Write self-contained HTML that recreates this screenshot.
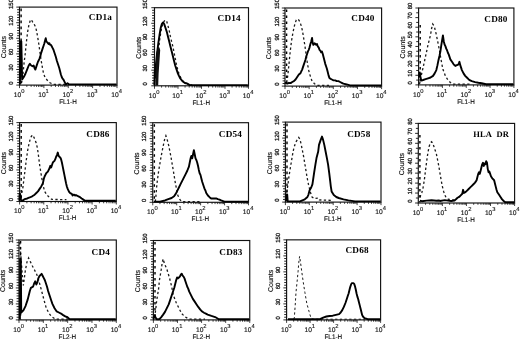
<!DOCTYPE html>
<html><head><meta charset="utf-8"><style>
html,body{margin:0;padding:0;background:#fff;}
body{width:520px;height:339px;overflow:hidden;}
svg{display:block;filter:grayscale(1);text-rendering:geometricPrecision;}
.t{font-family:"Liberation Sans",sans-serif;font-size:6.7px;fill:#111;stroke:#111;stroke-width:0.15px;}
.y{font-family:"Liberation Sans",sans-serif;font-size:6.0px;fill:#111;stroke:#111;stroke-width:0.25px;}
.s{font-family:"Liberation Sans",sans-serif;font-size:5.8px;fill:#111;stroke:#111;stroke-width:0.12px;}
.c{font-family:"Liberation Sans",sans-serif;font-size:7px;fill:#111;stroke:#111;stroke-width:0.15px;}
.ti{font-family:"Liberation Serif",serif;font-weight:bold;font-size:9.2px;fill:#000;letter-spacing:0.2px;}
</style></head><body>
<svg width="520" height="339" viewBox="0 0 520 339">
<rect width="520" height="339" fill="#fff"/>
<rect x="19.5" y="7.1" width="97.5" height="78" fill="none" stroke="#111" stroke-width="1.15"/>
<path d="M16.3 85.1H19.5M17.1 82.5H19.5M17.1 79.9H19.5M17.1 77.3H19.5M17.1 74.7H19.5M17.1 72.1H19.5M16.3 69.5H19.5M17.1 66.9H19.5M17.1 64.3H19.5M17.1 61.7H19.5M17.1 59.1H19.5M17.1 56.5H19.5M16.3 53.9H19.5M17.1 51.3H19.5M17.1 48.7H19.5M17.1 46.1H19.5M17.1 43.5H19.5M17.1 40.9H19.5M16.3 38.3H19.5M17.1 35.7H19.5M17.1 33.1H19.5M17.1 30.5H19.5M17.1 27.9H19.5M17.1 25.3H19.5M16.3 22.7H19.5M17.1 20.1H19.5M17.1 17.5H19.5M17.1 14.9H19.5M17.1 12.3H19.5M17.1 9.7H19.5M16.3 7.1H19.5" stroke="#111" stroke-width="0.9" fill="none"/>
<path d="M19.5 85.1V88.1M26.84 85.1V86.9M31.13 85.1V86.9M34.18 85.1V86.9M36.54 85.1V86.9M38.47 85.1V86.9M40.1 85.1V86.9M41.51 85.1V86.9M42.76 85.1V86.9M43.88 85.1V88.1M51.21 85.1V86.9M55.5 85.1V86.9M58.55 85.1V86.9M60.91 85.1V86.9M62.84 85.1V86.9M64.47 85.1V86.9M65.89 85.1V86.9M67.13 85.1V86.9M68.25 85.1V88.1M75.59 85.1V86.9M79.88 85.1V86.9M82.93 85.1V86.9M85.29 85.1V86.9M87.22 85.1V86.9M88.85 85.1V86.9M90.26 85.1V86.9M91.51 85.1V86.9M92.62 85.1V88.1M99.96 85.1V86.9M104.25 85.1V86.9M107.3 85.1V86.9M109.66 85.1V86.9M111.59 85.1V86.9M113.22 85.1V86.9M114.64 85.1V86.9M115.88 85.1V86.9M117 85.1V88.1" stroke="#111" stroke-width="0.8" fill="none"/>
<path d="M20.91 82.97 L21.87 82 L22.84 75.22 L24.05 63.11 L25.26 53.43 L26.47 41.32 L27.69 31.63 L28.9 24.85 L30.11 20.98 L31.32 19.53 L32.53 21.95 L33.74 23.4 L34.95 25.82 L36.16 29.21 L37.37 35.27 L38.58 42.53 L39.79 51 L41 59.48 L42.21 66.74 L43.42 72.8 L44.63 76.43 L47.06 80.06 L49.48 82.48 L53.11 84.4 L66.43 84.4" stroke="#1a1a1a" stroke-width="1.3" stroke-dasharray="2.3 2.4" fill="none"/>
<path d="M19.98 84.4 L20.31 41.55 L21.3 41.22 L21.8 63 L22.13 79.5 L23.78 77.03 L25.43 73.73 L27.08 69.6 L28.73 65.48 L29.88 63.83 L31.2 65.48 L32.52 66.3 L33.68 65.48 L34.5 67.95 L35.33 69.6 L36.15 67.13 L36.98 64.65 L37.8 62.18 L38.63 60.53 L39.45 58.88 L40.28 56.4 L41.1 53.1 L41.93 50.63 L42.75 48.15 L43.58 45.68 L44.4 43.2 L45.23 39.9 L45.72 38.25 L46.38 41.55 L47.37 42.38 L48.53 44.03 L49.35 43.2 L50.18 44.85 L51 44.85 L51.83 46.5 L52.65 48.15 L53.48 49.8 L54.3 52.28 L55.13 54.75 L55.95 57.23 L56.78 60.53 L57.6 63 L58.43 65.48 L59.25 67.95 L60.08 71.25 L60.9 74.55 L61.73 77.03 L62.55 78.68 L63.38 79.5 L64.2 81.16 L65.03 82.81 L65.85 84.4 L67.5 83.14 L69.16 84.4 L70.81 84.4 L74.11 84.4 L84.01 84.4 L116.5 84.4" stroke="#000" stroke-width="1.9" stroke-linejoin="round" fill="none"/>
<path d="M21.1 8.6V84.6" stroke="#000" stroke-width="1.4" stroke-dasharray="2.6 3.4"/>
<text x="21.3" y="96.9" class="t" text-anchor="end">10</text>
<text x="21.2" y="93" class="s">0</text>
<text x="45.67" y="96.9" class="t" text-anchor="end">10</text>
<text x="45.58" y="93" class="s">1</text>
<text x="70.05" y="96.9" class="t" text-anchor="end">10</text>
<text x="69.95" y="93" class="s">2</text>
<text x="94.42" y="96.9" class="t" text-anchor="end">10</text>
<text x="94.33" y="93" class="s">3</text>
<text x="118.8" y="96.9" class="t" text-anchor="end">10</text>
<text x="118.7" y="93" class="s">4</text>
<text x="67.95" y="103.9" class="t" text-anchor="middle" textLength="17.6" lengthAdjust="spacingAndGlyphs">FL1-H</text>
<text transform="translate(13.2 83.1) rotate(-90)" class="y" text-anchor="middle">0</text>
<text transform="translate(13.2 67.5) rotate(-90)" class="y" text-anchor="middle">30</text>
<text transform="translate(13.2 51.9) rotate(-90)" class="y" text-anchor="middle">60</text>
<text transform="translate(13.2 36.3) rotate(-90)" class="y" text-anchor="middle">90</text>
<text transform="translate(13.2 20.7) rotate(-90)" class="y" text-anchor="middle">120</text>
<text transform="translate(13.2 4) rotate(-90)" class="y" text-anchor="middle">150</text>
<text transform="translate(5.6 47.1) rotate(-90)" class="c" text-anchor="middle">Counts</text>
<text x="88.8" y="20.2" class="ti" xml:space="preserve">CD1a</text>
<rect x="154.5" y="7.7" width="94" height="78.1" fill="none" stroke="#111" stroke-width="1.15"/>
<path d="M151.3 85.8H154.5M152.1 83.2H154.5M152.1 80.59H154.5M152.1 77.99H154.5M152.1 75.39H154.5M152.1 72.78H154.5M151.3 70.18H154.5M152.1 67.58H154.5M152.1 64.97H154.5M152.1 62.37H154.5M152.1 59.77H154.5M152.1 57.16H154.5M151.3 54.56H154.5M152.1 51.96H154.5M152.1 49.35H154.5M152.1 46.75H154.5M152.1 44.15H154.5M152.1 41.54H154.5M151.3 38.94H154.5M152.1 36.34H154.5M152.1 33.73H154.5M152.1 31.13H154.5M152.1 28.53H154.5M152.1 25.92H154.5M151.3 23.32H154.5M152.1 20.72H154.5M152.1 18.11H154.5M152.1 15.51H154.5M152.1 12.91H154.5M152.1 10.3H154.5M151.3 7.7H154.5" stroke="#111" stroke-width="0.9" fill="none"/>
<path d="M154.5 85.8V88.8M161.57 85.8V87.6M165.71 85.8V87.6M168.65 85.8V87.6M170.93 85.8V87.6M172.79 85.8V87.6M174.36 85.8V87.6M175.72 85.8V87.6M176.92 85.8V87.6M178 85.8V88.8M185.07 85.8V87.6M189.21 85.8V87.6M192.15 85.8V87.6M194.43 85.8V87.6M196.29 85.8V87.6M197.86 85.8V87.6M199.22 85.8V87.6M200.42 85.8V87.6M201.5 85.8V88.8M208.57 85.8V87.6M212.71 85.8V87.6M215.65 85.8V87.6M217.93 85.8V87.6M219.79 85.8V87.6M221.36 85.8V87.6M222.72 85.8V87.6M223.92 85.8V87.6M225 85.8V88.8M232.07 85.8V87.6M236.21 85.8V87.6M239.15 85.8V87.6M241.43 85.8V87.6M243.29 85.8V87.6M244.86 85.8V87.6M246.22 85.8V87.6M247.42 85.8V87.6M248.5 85.8V88.8" stroke="#111" stroke-width="0.8" fill="none"/>
<path d="M154.39 82.48 L155.84 74.01 L157.05 63.11 L158.26 53.43 L159.47 41.32 L160.69 32.85 L161.9 26.79 L163.11 23.16 L164.32 20.98 L165.53 20.01 L166.74 21.46 L167.95 25.58 L169.16 30.42 L170.37 36.48 L171.58 41.32 L172.79 46.16 L174 52.22 L175.21 58.27 L176.42 64.32 L177.63 69.16 L178.85 73.28 L180.06 76.43 L182.48 80.54 L184.9 82.48 L187.32 83.69 L192.16 85.1" stroke="#1a1a1a" stroke-width="1.3" stroke-dasharray="2.3 2.4" fill="none"/>
<path d="M154.39 85.1 L154.87 70.38 L155.36 77.64 L155.84 65.53 L157.05 53.43 L158.26 43.74 L159.47 35.27 L160.69 28 L161.9 23.89 L163.11 22.43 L164.32 24.37 L165.53 28 L166.74 31.63 L167.95 36.48 L169.16 41.32 L170.37 46.16 L171.58 51 L172.79 55.85 L174 60.69 L175.21 65.53 L176.42 69.16 L177.63 72.8 L178.85 75.7 L180.06 78.12 L182.48 81.27 L184.9 82.97 L187.32 83.69 L189.74 85.1 L199.43 85.1 L223.64 85.1 L247.85 85.1" stroke="#000" stroke-width="1.9" stroke-linejoin="round" fill="none"/>
<path d="M155.4 85.5L155.6 66L156.6 52L158.6 46L160.2 50L159.4 62L158.6 74L158.2 85.5Z" fill="#111"/>
<text x="156.3" y="97.6" class="t" text-anchor="end">10</text>
<text x="156.2" y="93.7" class="s">0</text>
<text x="179.8" y="97.6" class="t" text-anchor="end">10</text>
<text x="179.7" y="93.7" class="s">1</text>
<text x="203.3" y="97.6" class="t" text-anchor="end">10</text>
<text x="203.2" y="93.7" class="s">2</text>
<text x="226.8" y="97.6" class="t" text-anchor="end">10</text>
<text x="226.7" y="93.7" class="s">3</text>
<text x="250.3" y="97.6" class="t" text-anchor="end">10</text>
<text x="250.2" y="93.7" class="s">4</text>
<text x="201.2" y="104.6" class="t" text-anchor="middle" textLength="17.6" lengthAdjust="spacingAndGlyphs">FL1-H</text>
<text transform="translate(147.1 83.8) rotate(-90)" class="y" text-anchor="middle">0</text>
<text transform="translate(147.1 68.18) rotate(-90)" class="y" text-anchor="middle">30</text>
<text transform="translate(147.1 52.56) rotate(-90)" class="y" text-anchor="middle">60</text>
<text transform="translate(147.1 36.94) rotate(-90)" class="y" text-anchor="middle">90</text>
<text transform="translate(147.1 21.32) rotate(-90)" class="y" text-anchor="middle">120</text>
<text transform="translate(147.1 4) rotate(-90)" class="y" text-anchor="middle">150</text>
<text transform="translate(140.6 47.75) rotate(-90)" class="c" text-anchor="middle">Counts</text>
<text x="217.6" y="20.7" class="ti" xml:space="preserve">CD14</text>
<rect x="285" y="8" width="96.6" height="78.1" fill="none" stroke="#111" stroke-width="1.15"/>
<path d="M281.8 86.1H285M282.6 83.5H285M282.6 80.89H285M282.6 78.29H285M282.6 75.69H285M282.6 73.08H285M281.8 70.48H285M282.6 67.88H285M282.6 65.27H285M282.6 62.67H285M282.6 60.07H285M282.6 57.46H285M281.8 54.86H285M282.6 52.26H285M282.6 49.65H285M282.6 47.05H285M282.6 44.45H285M282.6 41.84H285M281.8 39.24H285M282.6 36.64H285M282.6 34.03H285M282.6 31.43H285M282.6 28.83H285M282.6 26.22H285M281.8 23.62H285M282.6 21.02H285M282.6 18.41H285M282.6 15.81H285M282.6 13.21H285M282.6 10.6H285M281.8 8H285" stroke="#111" stroke-width="0.9" fill="none"/>
<path d="M285 86.1V89.1M292.27 86.1V87.9M296.52 86.1V87.9M299.54 86.1V87.9M301.88 86.1V87.9M303.79 86.1V87.9M305.41 86.1V87.9M306.81 86.1V87.9M308.04 86.1V87.9M309.15 86.1V89.1M316.42 86.1V87.9M320.67 86.1V87.9M323.69 86.1V87.9M326.03 86.1V87.9M327.94 86.1V87.9M329.56 86.1V87.9M330.96 86.1V87.9M332.19 86.1V87.9M333.3 86.1V89.1M340.57 86.1V87.9M344.82 86.1V87.9M347.84 86.1V87.9M350.18 86.1V87.9M352.09 86.1V87.9M353.71 86.1V87.9M355.11 86.1V87.9M356.34 86.1V87.9M357.45 86.1V89.1M364.72 86.1V87.9M368.97 86.1V87.9M371.99 86.1V87.9M374.33 86.1V87.9M376.24 86.1V87.9M377.86 86.1V87.9M379.26 86.1V87.9M380.49 86.1V87.9M381.6 86.1V89.1" stroke="#111" stroke-width="0.8" fill="none"/>
<path d="M286.63 82.48 L287.84 75.22 L289.05 63.11 L290.26 51 L291.47 41.32 L292.69 34.06 L293.9 28 L295.11 23.16 L296.32 20.01 L297.53 19.04 L298.74 20.01 L299.95 21.95 L301.16 25.58 L302.37 30.42 L303.58 37.69 L304.79 44.95 L306 53.43 L307.21 61.9 L308.42 69.16 L309.63 74.01 L310.85 77.64 L312.06 81.27 L314.48 83.69 L316.9 85.4 L331.43 85.4" stroke="#1a1a1a" stroke-width="1.3" stroke-dasharray="2.3 2.4" fill="none"/>
<path d="M284.83 82.81 L285.65 82.81 L287.3 83.63 L288.95 82.81 L290.6 83.14 L292.25 81.98 L293.9 81.16 L295.55 79.5 L297.2 77.03 L298.85 74.55 L300.5 73.23 L301.33 71.25 L302.15 69.6 L302.98 67.13 L303.8 64.65 L304.63 62.18 L305.45 59.7 L306.28 56.4 L307.1 53.93 L307.93 51.45 L308.75 49.8 L309.58 47.33 L310.4 44.03 L311.23 41.55 L312.05 37.92 L312.55 42.38 L313.37 44.85 L314.53 43.2 L315.35 44.03 L316.18 44.85 L317 44.03 L317.83 46.5 L318.65 47.33 L319.48 49.8 L320.3 50.63 L321.13 52.28 L321.95 51.45 L322.78 53.93 L323.6 57.23 L324.43 60.53 L325.25 63.83 L326.08 66.3 L326.9 68.78 L327.73 72.08 L328.55 75.38 L329.38 77.85 L330.2 78.68 L331.85 79.5 L333.5 80.33 L335.16 80.33 L336.81 81.16 L338.46 81.16 L340.11 81.98 L341.76 82.81 L343.41 83.63 L346.71 84.46 L350.01 85.4 L381.1 85.4" stroke="#000" stroke-width="1.9" stroke-linejoin="round" fill="none"/>
<path d="M286.6 9.5V85.6" stroke="#000" stroke-width="1.4" stroke-dasharray="2.6 3.4"/>
<text x="286.8" y="97.9" class="t" text-anchor="end">10</text>
<text x="286.7" y="94" class="s">0</text>
<text x="310.95" y="97.9" class="t" text-anchor="end">10</text>
<text x="310.85" y="94" class="s">1</text>
<text x="335.1" y="97.9" class="t" text-anchor="end">10</text>
<text x="335" y="94" class="s">2</text>
<text x="359.25" y="97.9" class="t" text-anchor="end">10</text>
<text x="359.15" y="94" class="s">3</text>
<text x="383.4" y="97.9" class="t" text-anchor="end">10</text>
<text x="383.3" y="94" class="s">4</text>
<text x="333" y="104.9" class="t" text-anchor="middle" textLength="17.6" lengthAdjust="spacingAndGlyphs">FL1-H</text>
<text transform="translate(278.7 84.1) rotate(-90)" class="y" text-anchor="middle">0</text>
<text transform="translate(278.7 68.48) rotate(-90)" class="y" text-anchor="middle">30</text>
<text transform="translate(278.7 52.86) rotate(-90)" class="y" text-anchor="middle">60</text>
<text transform="translate(278.7 37.24) rotate(-90)" class="y" text-anchor="middle">90</text>
<text transform="translate(278.7 21.62) rotate(-90)" class="y" text-anchor="middle">120</text>
<text transform="translate(278.7 4) rotate(-90)" class="y" text-anchor="middle">150</text>
<text transform="translate(271.1 48.05) rotate(-90)" class="c" text-anchor="middle">Counts</text>
<text x="351.3" y="21.3" class="ti" xml:space="preserve">CD40</text>
<rect x="418.6" y="8" width="95.3" height="76.9" fill="none" stroke="#111" stroke-width="1.15"/>
<path d="M415.4 84.9H418.6M416.2 80.09H418.6M415.4 75.29H418.6M416.2 70.48H418.6M415.4 65.68H418.6M416.2 60.87H418.6M415.4 56.06H418.6M416.2 51.26H418.6M415.4 46.45H418.6M416.2 41.64H418.6M415.4 36.84H418.6M416.2 32.03H418.6M415.4 27.23H418.6M416.2 22.42H418.6M415.4 17.61H418.6M416.2 12.81H418.6M415.4 8H418.6" stroke="#111" stroke-width="0.9" fill="none"/>
<path d="M418.6 84.9V87.9M425.77 84.9V86.7M429.97 84.9V86.7M432.94 84.9V86.7M435.25 84.9V86.7M437.14 84.9V86.7M438.73 84.9V86.7M440.12 84.9V86.7M441.33 84.9V86.7M442.43 84.9V87.9M449.6 84.9V86.7M453.79 84.9V86.7M456.77 84.9V86.7M459.08 84.9V86.7M460.96 84.9V86.7M462.56 84.9V86.7M463.94 84.9V86.7M465.16 84.9V86.7M466.25 84.9V87.9M473.42 84.9V86.7M477.62 84.9V86.7M480.59 84.9V86.7M482.9 84.9V86.7M484.79 84.9V86.7M486.38 84.9V86.7M487.77 84.9V86.7M488.98 84.9V86.7M490.07 84.9V87.9M497.25 84.9V86.7M501.44 84.9V86.7M504.42 84.9V86.7M506.73 84.9V86.7M508.61 84.9V86.7M510.21 84.9V86.7M511.59 84.9V86.7M512.81 84.9V86.7M513.9 84.9V87.9" stroke="#111" stroke-width="0.8" fill="none"/>
<path d="M419.5 84.2 L420.5 79 L421.8 73 L423.1 67.6 L425.6 56.1 L428.1 44.5 L430.6 34.6 L431.6 28.5 L432.7 24 L433.8 25.5 L434.7 28 L436.3 34.6 L438 42.9 L439.6 51.1 L441.3 61 L442.9 69.3 L445.4 75.9 L447.9 80 L450.4 82.5 L453 84.2 L470 84.2" stroke="#1a1a1a" stroke-width="1.3" stroke-dasharray="2.3 2.4" fill="none"/>
<path d="M419 77.5 L419.83 72.55 L420.65 78.33 L421.48 80.48 L423.13 79.98 L425.6 79.16 L428.08 78.33 L430.55 77.5 L433.03 75.85 L434.68 73.38 L436.33 70.08 L437.48 65.13 L438.47 60.18 L439.63 55.23 L440.45 51.1 L441.28 45.33 L442.1 40.38 L442.93 35.43 L443.75 41.2 L444.58 44.5 L445.4 46.15 L446.23 48.63 L447.05 50.28 L447.88 52.75 L448.7 54.4 L449.53 56.88 L450.35 59.35 L452 61.83 L453.65 64.3 L455.3 65.95 L456.95 65.13 L458.6 64.3 L459.43 61.83 L460.25 65.13 L461.08 67.6 L461.9 70.08 L463.55 73.38 L465.2 75.85 L466.85 77.5 L468.5 79.16 L470.16 80.48 L471.81 81.14 L475.11 82.13 L478.41 82.79 L481.71 83.28 L486 84.2 L513.4 84.2" stroke="#000" stroke-width="1.9" stroke-linejoin="round" fill="none"/>
<path d="M420.2 25V84.4" stroke="#000" stroke-width="1.4" stroke-dasharray="2.6 3.4"/>
<text x="420.4" y="96.7" class="t" text-anchor="end">10</text>
<text x="420.3" y="92.8" class="s">0</text>
<text x="444.23" y="96.7" class="t" text-anchor="end">10</text>
<text x="444.12" y="92.8" class="s">1</text>
<text x="468.05" y="96.7" class="t" text-anchor="end">10</text>
<text x="467.95" y="92.8" class="s">2</text>
<text x="491.88" y="96.7" class="t" text-anchor="end">10</text>
<text x="491.77" y="92.8" class="s">3</text>
<text x="515.7" y="96.7" class="t" text-anchor="end">10</text>
<text x="515.6" y="92.8" class="s">4</text>
<text x="465.95" y="103.7" class="t" text-anchor="middle" textLength="17.6" lengthAdjust="spacingAndGlyphs">FL1-H</text>
<text transform="translate(412.3 82.9) rotate(-90)" class="y" text-anchor="middle">0</text>
<text transform="translate(412.3 73.29) rotate(-90)" class="y" text-anchor="middle">10</text>
<text transform="translate(412.3 63.68) rotate(-90)" class="y" text-anchor="middle">20</text>
<text transform="translate(412.3 54.06) rotate(-90)" class="y" text-anchor="middle">30</text>
<text transform="translate(412.3 44.45) rotate(-90)" class="y" text-anchor="middle">40</text>
<text transform="translate(412.3 34.84) rotate(-90)" class="y" text-anchor="middle">50</text>
<text transform="translate(412.3 25.23) rotate(-90)" class="y" text-anchor="middle">60</text>
<text transform="translate(412.3 15.61) rotate(-90)" class="y" text-anchor="middle">70</text>
<text transform="translate(412.3 6) rotate(-90)" class="y" text-anchor="middle">80</text>
<text transform="translate(404.7 47.45) rotate(-90)" class="c" text-anchor="middle">Counts</text>
<text x="484.3" y="21.9" class="ti" xml:space="preserve">CD80</text>
<rect x="19.6" y="122.6" width="96.7" height="78.9" fill="none" stroke="#111" stroke-width="1.15"/>
<path d="M16.4 201.5H19.6M17.2 198.87H19.6M17.2 196.24H19.6M17.2 193.61H19.6M17.2 190.98H19.6M17.2 188.35H19.6M16.4 185.72H19.6M17.2 183.09H19.6M17.2 180.46H19.6M17.2 177.83H19.6M17.2 175.2H19.6M17.2 172.57H19.6M16.4 169.94H19.6M17.2 167.31H19.6M17.2 164.68H19.6M17.2 162.05H19.6M17.2 159.42H19.6M17.2 156.79H19.6M16.4 154.16H19.6M17.2 151.53H19.6M17.2 148.9H19.6M17.2 146.27H19.6M17.2 143.64H19.6M17.2 141.01H19.6M16.4 138.38H19.6M17.2 135.75H19.6M17.2 133.12H19.6M17.2 130.49H19.6M17.2 127.86H19.6M17.2 125.23H19.6M16.4 122.6H19.6" stroke="#111" stroke-width="0.9" fill="none"/>
<path d="M19.6 201.5V204.5M26.88 201.5V203.3M31.13 201.5V203.3M34.15 201.5V203.3M36.5 201.5V203.3M38.41 201.5V203.3M40.03 201.5V203.3M41.43 201.5V203.3M42.67 201.5V203.3M43.77 201.5V204.5M51.05 201.5V203.3M55.31 201.5V203.3M58.33 201.5V203.3M60.67 201.5V203.3M62.59 201.5V203.3M64.21 201.5V203.3M65.61 201.5V203.3M66.84 201.5V203.3M67.95 201.5V204.5M75.23 201.5V203.3M79.48 201.5V203.3M82.5 201.5V203.3M84.85 201.5V203.3M86.76 201.5V203.3M88.38 201.5V203.3M89.78 201.5V203.3M91.02 201.5V203.3M92.12 201.5V204.5M99.4 201.5V203.3M103.66 201.5V203.3M106.68 201.5V203.3M109.02 201.5V203.3M110.94 201.5V203.3M112.56 201.5V203.3M113.96 201.5V203.3M115.19 201.5V203.3M116.3 201.5V204.5" stroke="#111" stroke-width="0.8" fill="none"/>
<path d="M20.91 197.48 L22.84 187.8 L24.05 178.11 L25.26 168.43 L26.47 158.74 L27.69 150.27 L28.9 144.21 L30.11 139.37 L31.32 136.46 L32.53 135.01 L33.74 136.95 L34.95 139.37 L36.16 143 L37.37 147.85 L38.58 156.32 L39.79 166 L41 173.27 L42.21 180.53 L43.42 186.59 L44.63 191.43 L47.06 195.06 L49.48 197.48 L51.9 199.42 L66.43 199.66" stroke="#1a1a1a" stroke-width="1.3" stroke-dasharray="2.3 2.4" fill="none"/>
<path d="M19.33 200.8 L19.66 193.85 L20.16 193.85 L20.65 199.63 L22.3 200.8 L24.78 199.14 L27.25 198.48 L29.73 197.49 L32.2 196.33 L34.68 194.68 L36.33 193.03 L37.98 191.38 L39.63 188.9 L41.28 186.43 L42.93 183.13 L43.75 179 L44.58 176.53 L45.4 174.88 L46.23 173.23 L47.05 172.4 L47.88 171.58 L48.7 169.93 L49.53 168.28 L50.35 165.8 L51.18 167.45 L52 164.98 L52.83 162.5 L53.65 161.68 L54.48 160.85 L55.3 159.2 L56.13 156.73 L56.95 155.08 L57.78 152.6 L58.6 155.9 L59.43 156.73 L60.25 157.55 L61.08 159.2 L61.9 162.5 L62.73 166.63 L63.55 170.75 L64.38 174.88 L65.2 179 L66.03 183.13 L66.85 186.43 L67.68 188.9 L68.5 190.55 L69.33 192.2 L70.16 193.03 L71.81 193.85 L72.63 195.5 L73.46 194.68 L74.28 194.68 L75.11 195.5 L75.93 195.17 L76.76 195.5 L78.41 196.33 L80.06 197.16 L81.71 198.48 L83.36 199.63 L85.01 200.8 L94 200.8 L115.8 200.8" stroke="#000" stroke-width="1.9" stroke-linejoin="round" fill="none"/>
<path d="M21.2 124.1V201" stroke="#000" stroke-width="1.4" stroke-dasharray="2.6 3.4"/>
<text x="21.4" y="213.3" class="t" text-anchor="end">10</text>
<text x="21.3" y="209.4" class="s">0</text>
<text x="45.57" y="213.3" class="t" text-anchor="end">10</text>
<text x="45.48" y="209.4" class="s">1</text>
<text x="69.75" y="213.3" class="t" text-anchor="end">10</text>
<text x="69.65" y="209.4" class="s">2</text>
<text x="93.92" y="213.3" class="t" text-anchor="end">10</text>
<text x="93.83" y="209.4" class="s">3</text>
<text x="118.1" y="213.3" class="t" text-anchor="end">10</text>
<text x="118" y="209.4" class="s">4</text>
<text x="67.65" y="220.3" class="t" text-anchor="middle" textLength="17.6" lengthAdjust="spacingAndGlyphs">FL1-H</text>
<text transform="translate(13.3 199.5) rotate(-90)" class="y" text-anchor="middle">0</text>
<text transform="translate(13.3 183.72) rotate(-90)" class="y" text-anchor="middle">30</text>
<text transform="translate(13.3 167.94) rotate(-90)" class="y" text-anchor="middle">60</text>
<text transform="translate(13.3 152.16) rotate(-90)" class="y" text-anchor="middle">90</text>
<text transform="translate(13.3 136.38) rotate(-90)" class="y" text-anchor="middle">120</text>
<text transform="translate(13.3 120.6) rotate(-90)" class="y" text-anchor="middle">150</text>
<text transform="translate(5.7 163.05) rotate(-90)" class="c" text-anchor="middle">Counts</text>
<text x="86.3" y="137.4" class="ti" xml:space="preserve">CD86</text>
<rect x="152.75" y="122.7" width="95.75" height="79.6" fill="none" stroke="#111" stroke-width="1.15"/>
<path d="M149.55 202.3H152.75M150.35 199.65H152.75M150.35 196.99H152.75M150.35 194.34H152.75M150.35 191.69H152.75M150.35 189.03H152.75M149.55 186.38H152.75M150.35 183.73H152.75M150.35 181.07H152.75M150.35 178.42H152.75M150.35 175.77H152.75M150.35 173.11H152.75M149.55 170.46H152.75M150.35 167.81H152.75M150.35 165.15H152.75M150.35 162.5H152.75M150.35 159.85H152.75M150.35 157.19H152.75M149.55 154.54H152.75M150.35 151.89H152.75M150.35 149.23H152.75M150.35 146.58H152.75M150.35 143.93H152.75M150.35 141.27H152.75M149.55 138.62H152.75M150.35 135.97H152.75M150.35 133.31H152.75M150.35 130.66H152.75M150.35 128.01H152.75M150.35 125.35H152.75M149.55 122.7H152.75" stroke="#111" stroke-width="0.9" fill="none"/>
<path d="M152.75 202.3V205.3M159.96 202.3V204.1M164.17 202.3V204.1M167.16 202.3V204.1M169.48 202.3V204.1M171.38 202.3V204.1M172.98 202.3V204.1M174.37 202.3V204.1M175.59 202.3V204.1M176.69 202.3V205.3M183.89 202.3V204.1M188.11 202.3V204.1M191.1 202.3V204.1M193.42 202.3V204.1M195.31 202.3V204.1M196.92 202.3V204.1M198.31 202.3V204.1M199.53 202.3V204.1M200.62 202.3V205.3M207.83 202.3V204.1M212.05 202.3V204.1M215.04 202.3V204.1M217.36 202.3V204.1M219.25 202.3V204.1M220.85 202.3V204.1M222.24 202.3V204.1M223.47 202.3V204.1M224.56 202.3V205.3M231.77 202.3V204.1M235.98 202.3V204.1M238.97 202.3V204.1M241.29 202.3V204.1M243.19 202.3V204.1M244.79 202.3V204.1M246.18 202.3V204.1M247.4 202.3V204.1M248.5 202.3V205.3" stroke="#111" stroke-width="0.8" fill="none"/>
<path d="M155.3 201.6 L156 195.3 L156.9 184 L158.7 170.6 L161 157.1 L163.2 145.9 L164.6 139.5 L165.9 135.8 L167.3 140 L168.8 145.9 L171 157.1 L173.3 170.6 L175.5 184 L177.8 195.3 L180 199.7 L182 201.6 L200 201.6" stroke="#1a1a1a" stroke-width="1.3" stroke-dasharray="2.3 2.4" fill="none"/>
<path d="M154 201.6 L160 201.6 L165 200.46 L168.3 199.14 L171.6 197.98 L174.08 196.33 L175.73 193.85 L177.38 190.55 L179.03 187.25 L180.68 183.95 L182.33 180.65 L183.98 177.35 L185.63 174.05 L187.28 170.75 L188.93 166.63 L189.75 162.5 L190.58 158.38 L191.4 155.9 L192.23 158.38 L193.05 154.25 L193.88 150.13 L194.7 154.25 L195.53 158.38 L196.35 160.03 L197.18 162.5 L198 165.8 L198.83 169.93 L199.65 173.23 L200.48 174.88 L201.3 178.18 L202.13 181.48 L202.95 183.95 L203.78 186.43 L204.6 188.9 L205.43 190.55 L206.25 193.03 L207.9 195.5 L209.55 197.16 L211.2 198.48 L212.85 198.48 L214.5 198.48 L216.16 198.48 L217.81 199.14 L219.46 199.63 L221.11 200.46 L224.41 201.6 L227.71 201.6 L248 201.6" stroke="#000" stroke-width="1.9" stroke-linejoin="round" fill="none"/>
<path d="M154.35 124.2V201.8" stroke="#000" stroke-width="1.4" stroke-dasharray="2.6 3.4"/>
<text x="154.55" y="214.1" class="t" text-anchor="end">10</text>
<text x="154.45" y="210.2" class="s">0</text>
<text x="178.49" y="214.1" class="t" text-anchor="end">10</text>
<text x="178.39" y="210.2" class="s">1</text>
<text x="202.43" y="214.1" class="t" text-anchor="end">10</text>
<text x="202.32" y="210.2" class="s">2</text>
<text x="226.36" y="214.1" class="t" text-anchor="end">10</text>
<text x="226.26" y="210.2" class="s">3</text>
<text x="250.3" y="214.1" class="t" text-anchor="end">10</text>
<text x="250.2" y="210.2" class="s">4</text>
<text x="200.32" y="221.1" class="t" text-anchor="middle" textLength="17.6" lengthAdjust="spacingAndGlyphs">FL1-H</text>
<text transform="translate(146.45 200.3) rotate(-90)" class="y" text-anchor="middle">0</text>
<text transform="translate(146.45 184.38) rotate(-90)" class="y" text-anchor="middle">30</text>
<text transform="translate(146.45 168.46) rotate(-90)" class="y" text-anchor="middle">60</text>
<text transform="translate(146.45 152.54) rotate(-90)" class="y" text-anchor="middle">90</text>
<text transform="translate(146.45 136.62) rotate(-90)" class="y" text-anchor="middle">120</text>
<text transform="translate(146.45 120.7) rotate(-90)" class="y" text-anchor="middle">150</text>
<text transform="translate(138.85 163.5) rotate(-90)" class="c" text-anchor="middle">Counts</text>
<text x="218.8" y="137.4" class="ti" xml:space="preserve">CD54</text>
<rect x="285.4" y="122.1" width="95.6" height="80" fill="none" stroke="#111" stroke-width="1.15"/>
<path d="M282.2 202.1H285.4M283 199.43H285.4M283 196.77H285.4M283 194.1H285.4M283 191.43H285.4M283 188.77H285.4M282.2 186.1H285.4M283 183.43H285.4M283 180.77H285.4M283 178.1H285.4M283 175.43H285.4M283 172.77H285.4M282.2 170.1H285.4M283 167.43H285.4M283 164.77H285.4M283 162.1H285.4M283 159.43H285.4M283 156.77H285.4M282.2 154.1H285.4M283 151.43H285.4M283 148.77H285.4M283 146.1H285.4M283 143.43H285.4M283 140.77H285.4M282.2 138.1H285.4M283 135.43H285.4M283 132.77H285.4M283 130.1H285.4M283 127.43H285.4M283 124.77H285.4M282.2 122.1H285.4" stroke="#111" stroke-width="0.9" fill="none"/>
<path d="M285.4 202.1V205.1M292.59 202.1V203.9M296.8 202.1V203.9M299.79 202.1V203.9M302.11 202.1V203.9M304 202.1V203.9M305.6 202.1V203.9M306.98 202.1V203.9M308.21 202.1V203.9M309.3 202.1V205.1M316.49 202.1V203.9M320.7 202.1V203.9M323.69 202.1V203.9M326.01 202.1V203.9M327.9 202.1V203.9M329.5 202.1V203.9M330.88 202.1V203.9M332.11 202.1V203.9M333.2 202.1V205.1M340.39 202.1V203.9M344.6 202.1V203.9M347.59 202.1V203.9M349.91 202.1V203.9M351.8 202.1V203.9M353.4 202.1V203.9M354.78 202.1V203.9M356.01 202.1V203.9M357.1 202.1V205.1M364.29 202.1V203.9M368.5 202.1V203.9M371.49 202.1V203.9M373.81 202.1V203.9M375.7 202.1V203.9M377.3 202.1V203.9M378.68 202.1V203.9M379.91 202.1V203.9M381 202.1V205.1" stroke="#111" stroke-width="0.8" fill="none"/>
<path d="M286.63 192.64 L287.84 185.38 L289.05 175.69 L290.26 168.43 L291.47 161.16 L292.69 153.9 L293.9 147.85 L295.11 144.21 L296.32 141.31 L297.53 139.37 L298.74 137.43 L299.95 139.37 L301.16 144.21 L302.37 150.27 L303.58 156.32 L304.79 163.58 L306 170.85 L307.21 178.11 L308.42 184.16 L309.63 189.01 L310.85 193.85 L312.06 197 L314.48 198.69 L318.11 197.97 L319.32 199.9 L331.43 200.39" stroke="#1a1a1a" stroke-width="1.3" stroke-dasharray="2.3 2.4" fill="none"/>
<path d="M286.2 201.4 L286.5 194.5 L287.2 194.5 L287.7 201.4 L295 201.4 L300 201.4 L302.4 200.3 L304.8 199.3 L307.2 197.3 L308.4 194.8 L309.6 190.2 L311.2 187.5 L312.4 184.3 L312.9 181.2 L314.1 172.9 L315.4 164.7 L316.5 158.1 L318.2 151.5 L319 144.9 L320.7 139.9 L322 136.6 L323.1 139.9 L324.3 144.9 L325.6 151.5 L326.9 158.1 L328.1 164.7 L329.2 172.9 L330.2 181.2 L330.8 186.3 L331.6 191.4 L333.8 195.1 L336.3 197 L338.7 198 L343.5 199.4 L348.4 200.4 L355 201.4 L380.5 201.4" stroke="#000" stroke-width="1.9" stroke-linejoin="round" fill="none"/>
<path d="M287 123.6V201.6" stroke="#000" stroke-width="1.4" stroke-dasharray="2.6 3.4"/>
<text x="287.2" y="213.9" class="t" text-anchor="end">10</text>
<text x="287.1" y="210" class="s">0</text>
<text x="311.1" y="213.9" class="t" text-anchor="end">10</text>
<text x="311" y="210" class="s">1</text>
<text x="335" y="213.9" class="t" text-anchor="end">10</text>
<text x="334.9" y="210" class="s">2</text>
<text x="358.9" y="213.9" class="t" text-anchor="end">10</text>
<text x="358.8" y="210" class="s">3</text>
<text x="382.8" y="213.9" class="t" text-anchor="end">10</text>
<text x="382.7" y="210" class="s">4</text>
<text x="332.9" y="220.9" class="t" text-anchor="middle" textLength="17.6" lengthAdjust="spacingAndGlyphs">FL1-H</text>
<text transform="translate(279.1 200.1) rotate(-90)" class="y" text-anchor="middle">0</text>
<text transform="translate(279.1 184.1) rotate(-90)" class="y" text-anchor="middle">30</text>
<text transform="translate(279.1 168.1) rotate(-90)" class="y" text-anchor="middle">60</text>
<text transform="translate(279.1 152.1) rotate(-90)" class="y" text-anchor="middle">90</text>
<text transform="translate(279.1 136.1) rotate(-90)" class="y" text-anchor="middle">120</text>
<text transform="translate(279.1 120.1) rotate(-90)" class="y" text-anchor="middle">150</text>
<text transform="translate(271.5 163.1) rotate(-90)" class="c" text-anchor="middle">Counts</text>
<text x="347.2" y="137" class="ti" xml:space="preserve">CD58</text>
<rect x="418.3" y="123.4" width="96.3" height="79.6" fill="none" stroke="#111" stroke-width="1.15"/>
<path d="M415.1 203H418.3M415.9 198.03H418.3M415.1 193.05H418.3M415.9 188.07H418.3M415.1 183.1H418.3M415.9 178.12H418.3M415.1 173.15H418.3M415.9 168.18H418.3M415.1 163.2H418.3M415.9 158.22H418.3M415.1 153.25H418.3M415.9 148.28H418.3M415.1 143.3H418.3M415.9 138.32H418.3M415.1 133.35H418.3M415.9 128.38H418.3M415.1 123.4H418.3" stroke="#111" stroke-width="0.9" fill="none"/>
<path d="M418.3 203V206M425.55 203V204.8M429.79 203V204.8M432.79 203V204.8M435.13 203V204.8M437.03 203V204.8M438.65 203V204.8M440.04 203V204.8M441.27 203V204.8M442.38 203V206M449.62 203V204.8M453.86 203V204.8M456.87 203V204.8M459.2 203V204.8M461.11 203V204.8M462.72 203V204.8M464.12 203V204.8M465.35 203V204.8M466.45 203V206M473.7 203V204.8M477.94 203V204.8M480.94 203V204.8M483.28 203V204.8M485.18 203V204.8M486.8 203V204.8M488.19 203V204.8M489.42 203V204.8M490.53 203V206M497.77 203V204.8M502.01 203V204.8M505.02 203V204.8M507.35 203V204.8M509.26 203V204.8M510.87 203V204.8M512.27 203V204.8M513.5 203V204.8M514.6 203V206" stroke="#111" stroke-width="0.8" fill="none"/>
<path d="M419.91 197.48 L421.84 192.64 L423.05 187.8 L424.26 180.53 L425.47 170.85 L426.69 161.16 L427.9 152.69 L429.11 146.63 L430.32 143 L431.53 141.79 L432.74 143 L433.95 146.63 L435.16 150.27 L436.37 153.9 L437.58 159.95 L438.79 166 L440 173.27 L441.21 180.53 L442.42 186.59 L443.63 191.43 L444.85 195.06 L446.06 197.48 L448.48 199.42 L455.74 199.9" stroke="#1a1a1a" stroke-width="1.3" stroke-dasharray="2.3 2.4" fill="none"/>
<path d="M419.91 200.6 L421.84 201.2 L426.69 200.6 L431.53 200.2 L436.37 200.8 L438.79 200.5 L440 200.96 L444.78 200.16 L447.96 200.64 L451.15 200.96 L454.33 200.64 L455.92 199.36 L457.52 197.77 L459.11 196.97 L460.7 195.38 L462.29 193.79 L463.09 189.81 L463.89 192.99 L465.48 192.2 L467.07 190.61 L468.66 189.01 L470.25 187.42 L471.85 185.83 L473.44 184.24 L475.03 182.64 L476.62 180.25 L477.42 177.07 L478.22 173.89 L479.01 172.29 L479.81 173.89 L480.61 170.7 L481.4 167.52 L482.2 164.33 L482.99 162.74 L483.79 165.92 L484.59 163.54 L485.38 164.33 L486.18 161.15 L486.97 162.74 L487.77 169.11 L488.57 172.29 L489.36 171.5 L490.16 173.89 L490.96 176.27 L492.55 178.66 L494.14 180.25 L494.94 183.44 L495.73 186.62 L496.53 189.81 L497.32 192.2 L498.92 194.59 L500.51 196.97 L502.1 199.36 L503.69 200.96 L505.29 202.3 L506.88 202.3 L514.04 202.3" stroke="#000" stroke-width="1.9" stroke-linejoin="round" fill="none"/>
<path d="M419.9 135V202.5" stroke="#000" stroke-width="1.4" stroke-dasharray="2.6 3.4"/>
<text x="420.1" y="214.8" class="t" text-anchor="end">10</text>
<text x="420" y="210.9" class="s">0</text>
<text x="444.18" y="214.8" class="t" text-anchor="end">10</text>
<text x="444.07" y="210.9" class="s">1</text>
<text x="468.25" y="214.8" class="t" text-anchor="end">10</text>
<text x="468.15" y="210.9" class="s">2</text>
<text x="492.33" y="214.8" class="t" text-anchor="end">10</text>
<text x="492.23" y="210.9" class="s">3</text>
<text x="516.4" y="214.8" class="t" text-anchor="end">10</text>
<text x="516.3" y="210.9" class="s">4</text>
<text x="466.15" y="221.8" class="t" text-anchor="middle" textLength="17.6" lengthAdjust="spacingAndGlyphs">FL1-H</text>
<text transform="translate(412 201) rotate(-90)" class="y" text-anchor="middle">0</text>
<text transform="translate(412 191.05) rotate(-90)" class="y" text-anchor="middle">10</text>
<text transform="translate(412 181.1) rotate(-90)" class="y" text-anchor="middle">20</text>
<text transform="translate(412 171.15) rotate(-90)" class="y" text-anchor="middle">30</text>
<text transform="translate(412 161.2) rotate(-90)" class="y" text-anchor="middle">40</text>
<text transform="translate(412 151.25) rotate(-90)" class="y" text-anchor="middle">50</text>
<text transform="translate(412 141.3) rotate(-90)" class="y" text-anchor="middle">60</text>
<text transform="translate(412 131.35) rotate(-90)" class="y" text-anchor="middle">70</text>
<text transform="translate(412 121.4) rotate(-90)" class="y" text-anchor="middle">80</text>
<text transform="translate(404.4 164.2) rotate(-90)" class="c" text-anchor="middle">Counts</text>
<text x="473.2" y="137" class="ti" style="font-size:8.5px;letter-spacing:0.1px">HLA</text>
<text x="496.6" y="137" class="ti" style="font-size:8.5px;letter-spacing:0.1px">DR</text>
<rect x="19" y="240" width="97.3" height="79.9" fill="none" stroke="#111" stroke-width="1.15"/>
<path d="M15.8 319.9H19M16.6 317.24H19M16.6 314.57H19M16.6 311.91H19M16.6 309.25H19M16.6 306.58H19M15.8 303.92H19M16.6 301.26H19M16.6 298.59H19M16.6 295.93H19M16.6 293.27H19M16.6 290.6H19M15.8 287.94H19M16.6 285.28H19M16.6 282.61H19M16.6 279.95H19M16.6 277.29H19M16.6 274.62H19M15.8 271.96H19M16.6 269.3H19M16.6 266.63H19M16.6 263.97H19M16.6 261.31H19M16.6 258.64H19M15.8 255.98H19M16.6 253.32H19M16.6 250.65H19M16.6 247.99H19M16.6 245.33H19M16.6 242.66H19M15.8 240H19" stroke="#111" stroke-width="0.9" fill="none"/>
<path d="M19 319.9V322.9M26.32 319.9V321.7M30.61 319.9V321.7M33.65 319.9V321.7M36 319.9V321.7M37.93 319.9V321.7M39.56 319.9V321.7M40.97 319.9V321.7M42.21 319.9V321.7M43.33 319.9V322.9M50.65 319.9V321.7M54.93 319.9V321.7M57.97 319.9V321.7M60.33 319.9V321.7M62.25 319.9V321.7M63.88 319.9V321.7M65.29 319.9V321.7M66.54 319.9V321.7M67.65 319.9V322.9M74.97 319.9V321.7M79.26 319.9V321.7M82.3 319.9V321.7M84.65 319.9V321.7M86.58 319.9V321.7M88.21 319.9V321.7M89.62 319.9V321.7M90.86 319.9V321.7M91.97 319.9V322.9M99.3 319.9V321.7M103.58 319.9V321.7M106.62 319.9V321.7M108.98 319.9V321.7M110.9 319.9V321.7M112.53 319.9V321.7M113.94 319.9V321.7M115.19 319.9V321.7M116.3 319.9V322.9" stroke="#111" stroke-width="0.8" fill="none"/>
<path d="M19.68 242.19 L20.73 254.01 L22.3 275.02 L23.35 285.52 L24.4 277.64 L25.45 269.76 L27.03 261.89 L28.61 257.95 L30.44 261.89 L32.28 265.83 L34.38 269.76 L36.48 273.7 L38.32 278.96 L40.16 285.52 L42.26 293.4 L44.36 301.28 L46.2 307.84 L48.83 313.09 L51.45 316.51 L55.39 319.2 L59.33 319.2 L68.52 319.2" stroke="#1a1a1a" stroke-width="1.3" stroke-dasharray="2.3 2.4" fill="none"/>
<path d="M19.94 319.2 L20.15 258.75 L20.8 258.75 L21.23 312.52 L23.38 310.37 L25.53 306.06 L27.68 299.61 L29.83 291.01 L30.9 287.78 L33.05 286.71 L34.13 283.48 L35.2 281.33 L36.28 284.56 L37.35 282.41 L38.43 278.11 L39.51 275.96 L40.58 274.88 L41.66 273.81 L42.73 275.96 L43.81 278.11 L44.88 280.26 L45.96 283.48 L47.03 286.71 L48.11 291.01 L49.18 294.24 L50.26 297.46 L51.33 300.69 L52.41 303.91 L54.56 308.22 L56.71 311.44 L58.86 312.52 L61.01 313.59 L63.16 315.1 L65.31 316.39 L67.46 317.25 L69.61 319.2 L73.91 319.2 L115.8 319.2" stroke="#000" stroke-width="1.9" stroke-linejoin="round" fill="none"/>
<path d="M20.6 241V319.4" stroke="#000" stroke-width="1.4" stroke-dasharray="2.6 3.4"/>
<text x="20.8" y="331.7" class="t" text-anchor="end">10</text>
<text x="20.7" y="327.8" class="s">0</text>
<text x="45.12" y="331.7" class="t" text-anchor="end">10</text>
<text x="45.03" y="327.8" class="s">1</text>
<text x="69.45" y="331.7" class="t" text-anchor="end">10</text>
<text x="69.35" y="327.8" class="s">2</text>
<text x="93.77" y="331.7" class="t" text-anchor="end">10</text>
<text x="93.67" y="327.8" class="s">3</text>
<text x="118.1" y="331.7" class="t" text-anchor="end">10</text>
<text x="118" y="327.8" class="s">4</text>
<text x="67.35" y="338.7" class="t" text-anchor="middle" textLength="17.6" lengthAdjust="spacingAndGlyphs">FL2-H</text>
<text transform="translate(12.7 317.9) rotate(-90)" class="y" text-anchor="middle">0</text>
<text transform="translate(12.7 301.92) rotate(-90)" class="y" text-anchor="middle">30</text>
<text transform="translate(12.7 285.94) rotate(-90)" class="y" text-anchor="middle">60</text>
<text transform="translate(12.7 269.96) rotate(-90)" class="y" text-anchor="middle">90</text>
<text transform="translate(12.7 253.98) rotate(-90)" class="y" text-anchor="middle">120</text>
<text transform="translate(12.7 238) rotate(-90)" class="y" text-anchor="middle">150</text>
<text transform="translate(5.1 280.95) rotate(-90)" class="c" text-anchor="middle">Counts</text>
<text x="91.6" y="254.5" class="ti" xml:space="preserve">CD4</text>
<rect x="153.4" y="240.5" width="96.35" height="79.4" fill="none" stroke="#111" stroke-width="1.15"/>
<path d="M150.2 319.9H153.4M151 317.25H153.4M151 314.61H153.4M151 311.96H153.4M151 309.31H153.4M151 306.67H153.4M150.2 304.02H153.4M151 301.37H153.4M151 298.73H153.4M151 296.08H153.4M151 293.43H153.4M151 290.79H153.4M150.2 288.14H153.4M151 285.49H153.4M151 282.85H153.4M151 280.2H153.4M151 277.55H153.4M151 274.91H153.4M150.2 272.26H153.4M151 269.61H153.4M151 266.97H153.4M151 264.32H153.4M151 261.67H153.4M151 259.03H153.4M150.2 256.38H153.4M151 253.73H153.4M151 251.09H153.4M151 248.44H153.4M151 245.79H153.4M151 243.15H153.4M150.2 240.5H153.4" stroke="#111" stroke-width="0.9" fill="none"/>
<path d="M153.4 319.9V322.9M160.65 319.9V321.7M164.89 319.9V321.7M167.9 319.9V321.7M170.24 319.9V321.7M172.14 319.9V321.7M173.76 319.9V321.7M175.15 319.9V321.7M176.39 319.9V321.7M177.49 319.9V322.9M184.74 319.9V321.7M188.98 319.9V321.7M191.99 319.9V321.7M194.32 319.9V321.7M196.23 319.9V321.7M197.84 319.9V321.7M199.24 319.9V321.7M200.47 319.9V321.7M201.57 319.9V322.9M208.83 319.9V321.7M213.07 319.9V321.7M216.08 319.9V321.7M218.41 319.9V321.7M220.32 319.9V321.7M221.93 319.9V321.7M223.33 319.9V321.7M224.56 319.9V321.7M225.66 319.9V322.9M232.91 319.9V321.7M237.16 319.9V321.7M240.16 319.9V321.7M242.5 319.9V321.7M244.41 319.9V321.7M246.02 319.9V321.7M247.42 319.9V321.7M248.65 319.9V321.7M249.75 319.9V322.9" stroke="#111" stroke-width="0.8" fill="none"/>
<path d="M154.23 317.42 L155.71 309.99 L156.64 300.71 L158.5 289.56 L159.43 280.28 L161.28 269.14 L162.21 262.64 L163.14 258.93 L164.44 263.57 L166.85 269.14 L169.64 278.42 L171.5 285.85 L173.35 295.14 L176.14 302.56 L178.92 308.13 L181.71 313.7 L185.42 317.05 L189.14 319.2 L192.85 319.2 L205 319.2" stroke="#1a1a1a" stroke-width="1.3" stroke-dasharray="2.3 2.4" fill="none"/>
<path d="M153.49 319.2 L153.86 317.42 L154.79 315.56 L155.71 317.79 L156.64 319.2 L159.43 319.2 L161.28 317.05 L163.14 314.63 L165 311.85 L166.85 308.13 L168.71 304.42 L170.57 298.85 L172.42 293.28 L174.28 287.71 L175.21 283.99 L176.14 280.28 L177.07 277.5 L177.99 278.42 L178.92 277.5 L179.85 276.57 L180.78 274.71 L181.71 273.78 L182.64 275.64 L183.56 276.57 L184.49 278.42 L185.42 281.21 L186.35 283.99 L187.28 286.78 L188.21 288.64 L189.14 291.42 L190.99 295.14 L192.85 298.85 L194.71 301.63 L196.56 304.42 L198.42 307.2 L200.28 309.62 L202.13 311.47 L203.99 312.77 L205.85 313.7 L207.7 314.63 L211.42 315.93 L215.13 317.05 L218.84 319.2 L222 319.2 L228 319.2 L235 319.2 L249.25 319.2" stroke="#000" stroke-width="1.9" stroke-linejoin="round" fill="none"/>
<path d="M155 242V319.4" stroke="#000" stroke-width="1.4" stroke-dasharray="2.6 3.4"/>
<text x="155.2" y="331.7" class="t" text-anchor="end">10</text>
<text x="155.1" y="327.8" class="s">0</text>
<text x="179.29" y="331.7" class="t" text-anchor="end">10</text>
<text x="179.19" y="327.8" class="s">1</text>
<text x="203.38" y="331.7" class="t" text-anchor="end">10</text>
<text x="203.27" y="327.8" class="s">2</text>
<text x="227.46" y="331.7" class="t" text-anchor="end">10</text>
<text x="227.36" y="327.8" class="s">3</text>
<text x="251.55" y="331.7" class="t" text-anchor="end">10</text>
<text x="251.45" y="327.8" class="s">4</text>
<text x="201.27" y="338.7" class="t" text-anchor="middle" textLength="17.6" lengthAdjust="spacingAndGlyphs">FL2-H</text>
<text transform="translate(147.1 317.9) rotate(-90)" class="y" text-anchor="middle">0</text>
<text transform="translate(147.1 302.02) rotate(-90)" class="y" text-anchor="middle">30</text>
<text transform="translate(147.1 286.14) rotate(-90)" class="y" text-anchor="middle">60</text>
<text transform="translate(147.1 270.26) rotate(-90)" class="y" text-anchor="middle">90</text>
<text transform="translate(147.1 254.38) rotate(-90)" class="y" text-anchor="middle">120</text>
<text transform="translate(147.1 238.5) rotate(-90)" class="y" text-anchor="middle">150</text>
<text transform="translate(139.5 281.2) rotate(-90)" class="c" text-anchor="middle">Counts</text>
<text x="219.3" y="254.5" class="ti" xml:space="preserve">CD83</text>
<rect x="286.6" y="239.85" width="94" height="80.05" fill="none" stroke="#111" stroke-width="1.15"/>
<path d="M283.4 319.9H286.6M284.2 317.23H286.6M284.2 314.56H286.6M284.2 311.89H286.6M284.2 309.23H286.6M284.2 306.56H286.6M283.4 303.89H286.6M284.2 301.22H286.6M284.2 298.55H286.6M284.2 295.88H286.6M284.2 293.22H286.6M284.2 290.55H286.6M283.4 287.88H286.6M284.2 285.21H286.6M284.2 282.54H286.6M284.2 279.88H286.6M284.2 277.21H286.6M284.2 274.54H286.6M283.4 271.87H286.6M284.2 269.2H286.6M284.2 266.53H286.6M284.2 263.87H286.6M284.2 261.2H286.6M284.2 258.53H286.6M283.4 255.86H286.6M284.2 253.19H286.6M284.2 250.52H286.6M284.2 247.85H286.6M284.2 245.19H286.6M284.2 242.52H286.6M283.4 239.85H286.6" stroke="#111" stroke-width="0.9" fill="none"/>
<path d="M286.6 319.9V322.9M293.67 319.9V321.7M297.81 319.9V321.7M300.75 319.9V321.7M303.03 319.9V321.7M304.89 319.9V321.7M306.46 319.9V321.7M307.82 319.9V321.7M309.02 319.9V321.7M310.1 319.9V322.9M317.17 319.9V321.7M321.31 319.9V321.7M324.25 319.9V321.7M326.53 319.9V321.7M328.39 319.9V321.7M329.96 319.9V321.7M331.32 319.9V321.7M332.52 319.9V321.7M333.6 319.9V322.9M340.67 319.9V321.7M344.81 319.9V321.7M347.75 319.9V321.7M350.03 319.9V321.7M351.89 319.9V321.7M353.46 319.9V321.7M354.82 319.9V321.7M356.02 319.9V321.7M357.1 319.9V322.9M364.17 319.9V321.7M368.31 319.9V321.7M371.25 319.9V321.7M373.53 319.9V321.7M375.39 319.9V321.7M376.96 319.9V321.7M378.32 319.9V321.7M379.52 319.9V321.7M380.6 319.9V322.9" stroke="#111" stroke-width="0.8" fill="none"/>
<path d="M293.72 319.2 L294.3 317.9 L295.17 305.8 L295.99 292.48 L297.11 281.58 L298.1 271.29 L298.8 262.21 L299.6 256.4 L300.5 262.21 L301.71 271.29 L303.16 281.58 L304.9 292.48 L306.79 303.38 L309.09 311.61 L310.91 317.9 L312.85 319.2 L364.9 319.2" stroke="#1a1a1a" stroke-width="1.0" stroke-dasharray="2.3 2.4" fill="none"/>
<path d="M288 319.2 L300 319.2 L310 319.2 L315 319.2 L320 319.2 L323.18 317.6 L326.36 316.49 L329.54 316.01 L332.72 315.69 L335.9 314.9 L339.08 314.1 L340.67 312.52 L342.26 310.13 L343.85 306.95 L345.44 302.98 L347.03 298.21 L347.82 295.82 L348.62 293.44 L349.41 290.26 L350.21 287.08 L351 284.69 L351.8 283.1 L353.39 283.1 L354.18 283.9 L354.98 286.28 L355.77 289.46 L356.57 293.44 L357.36 296.62 L358.16 299 L358.95 302.18 L359.75 305.36 L360.54 308.54 L361.34 311.72 L362.13 314.9 L362.93 316.49 L364.52 318.08 L367.69 319.2 L375.96 319.2 L380.1 319.2" stroke="#000" stroke-width="1.9" stroke-linejoin="round" fill="none"/>
<text x="288.4" y="331.7" class="t" text-anchor="end">10</text>
<text x="288.3" y="327.8" class="s">0</text>
<text x="311.9" y="331.7" class="t" text-anchor="end">10</text>
<text x="311.8" y="327.8" class="s">1</text>
<text x="335.4" y="331.7" class="t" text-anchor="end">10</text>
<text x="335.3" y="327.8" class="s">2</text>
<text x="358.9" y="331.7" class="t" text-anchor="end">10</text>
<text x="358.8" y="327.8" class="s">3</text>
<text x="382.4" y="331.7" class="t" text-anchor="end">10</text>
<text x="382.3" y="327.8" class="s">4</text>
<text x="333.3" y="338.7" class="t" text-anchor="middle" textLength="17.6" lengthAdjust="spacingAndGlyphs">FL1-H</text>
<text transform="translate(280.3 317.9) rotate(-90)" class="y" text-anchor="middle">0</text>
<text transform="translate(280.3 301.89) rotate(-90)" class="y" text-anchor="middle">30</text>
<text transform="translate(280.3 285.88) rotate(-90)" class="y" text-anchor="middle">60</text>
<text transform="translate(280.3 269.87) rotate(-90)" class="y" text-anchor="middle">90</text>
<text transform="translate(280.3 253.86) rotate(-90)" class="y" text-anchor="middle">120</text>
<text transform="translate(280.3 237.85) rotate(-90)" class="y" text-anchor="middle">150</text>
<text transform="translate(272.7 280.88) rotate(-90)" class="c" text-anchor="middle">Counts</text>
<text x="345.5" y="253" class="ti" xml:space="preserve">CD68</text>
</svg>
</body></html>
